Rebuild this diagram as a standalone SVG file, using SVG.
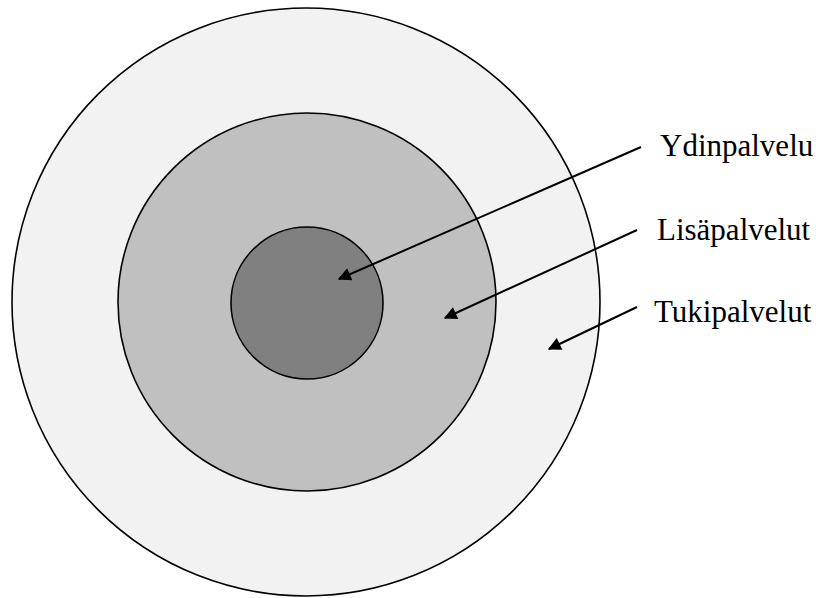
<svg xmlns="http://www.w3.org/2000/svg" width="819" height="598" viewBox="0 0 819 598">
  <style>
    .ring { stroke: #000; stroke-width: 1.6; }
    .lbl { font-family: "Liberation Serif", "Times New Roman", serif; font-size: 31px; fill: #000; }
    .conn { stroke: #000; stroke-width: 2; fill: none; marker-end: url(#arrow); }
  </style>
  <defs>
    <marker id="arrow" viewBox="0 0 10 10" refX="9" refY="5" markerWidth="8" markerHeight="6.5" orient="auto" markerUnits="strokeWidth">
      <path d="M0,0 L10,5 L0,10 z" fill="#000"/>
    </marker>
  </defs>

  <g id="tukipalvelut">
    <circle class="ring" cx="306" cy="302" r="294" fill="#f2f2f2"/>
  </g>
  <g id="lisapalvelut">
    <circle class="ring" cx="307" cy="302" r="189" fill="#c0c0c0"/>
  </g>
  <g id="ydinpalvelu">
    <circle class="ring" cx="307" cy="303" r="76" fill="#808080"/>
  </g>

  <g id="connectors">
    <line class="conn" x1="641" y1="147" x2="339" y2="279"/>
    <line class="conn" x1="637" y1="230" x2="445" y2="318"/>
    <line class="conn" x1="637" y1="307" x2="549" y2="349"/>
  </g>

  <g id="labels">
    <text class="lbl" x="660" y="156">Ydinpalvelu</text>
    <text class="lbl" x="657" y="240">Lisäpalvelut</text>
    <text class="lbl" x="654" y="322">Tukipalvelut</text>
  </g>
</svg>
